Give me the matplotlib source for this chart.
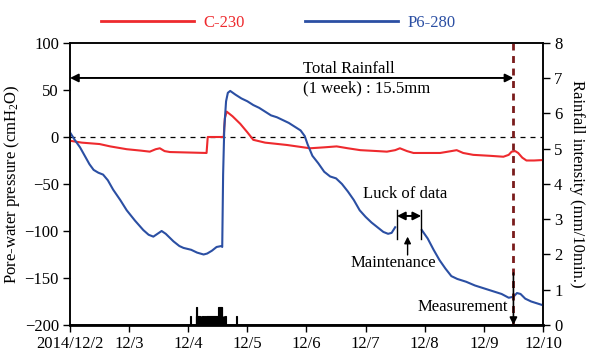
import numpy as np
import matplotlib
matplotlib.use("Agg")
import matplotlib.pyplot as plt
from matplotlib.lines import Line2D

plt.rcParams['font.family'] = 'Liberation Serif'
plt.rcParams['font.size'] = 12
plt.rcParams['mathtext.fontset'] = 'custom'
plt.rcParams['mathtext.rm'] = 'Liberation Serif'
plt.rcParams['mathtext.it'] = 'Liberation Serif:italic'

# time axis in days from 2014/12/2 00:00
tick_labels = ['2014/12/2', '12/3', '12/4', '12/5', '12/6', '12/7', '12/8', '12/9', '12/10']

# C-230 pore-water pressure (cmH2O)
c230_t = [0.00, 0.20, 0.50, 0.68, 0.96, 1.20, 1.35, 1.45, 1.52, 1.60, 1.69, 2.00, 2.31,
          2.33, 2.60, 2.62, 2.65, 2.75, 2.88, 3.00, 3.10, 3.30, 3.67, 4.06, 4.30, 4.51,
          4.70, 4.91, 5.20, 5.36, 5.50, 5.58, 5.70, 5.81, 6.26, 6.45, 6.54, 6.65, 6.82,
          7.10, 7.33, 7.42, 7.47, 7.53, 7.58, 7.65, 7.72, 7.85, 8.00]
c230_p = [-4, -6, -7.5, -10, -13, -14.5, -15.6, -13, -12, -15, -16, -16.5, -17,
          0, 0, 20, 27, 22, 14, 5, -3, -6, -8.5, -12, -11, -10,
          -12, -14, -15, -15.6, -14, -12, -15, -17, -17, -15, -14, -17, -19,
          -20, -21, -19, -15.6, -15, -17, -22, -25, -25, -24.5]

# P6-280 pore-water pressure (cmH2O), NaN = no data during maintenance
p6_t = [0.00, 0.08, 0.17, 0.25, 0.33, 0.40, 0.48, 0.56, 0.64, 0.73, 0.85, 0.96, 1.10,
        1.24, 1.33, 1.41, 1.48, 1.55, 1.62, 1.75, 1.85, 1.92, 2.05, 2.15, 2.26, 2.32,
        2.40, 2.48, 2.56, 2.575, 2.59, 2.61, 2.64, 2.67, 2.71, 2.80, 2.90, 3.00, 3.10,
        3.20, 3.30, 3.40, 3.50, 3.60, 3.70, 3.80, 3.90, 3.97, 4.02, 4.10, 4.20, 4.30,
        4.40, 4.50, 4.60, 4.70, 4.80, 4.90, 5.00, 5.10, 5.20, 5.30, 5.38, 5.44, 5.50,
        5.72, 5.95, 6.05, 6.15, 6.25, 6.35, 6.45, 6.55, 6.70, 6.85, 7.00, 7.15, 7.30,
        7.42, 7.50, 7.56, 7.62, 7.70, 7.80, 7.90, 8.00]
p6_p = [5, -3, -11, -20, -29, -35, -38, -40, -46, -56, -67, -78, -89,
        -99, -104, -106, -103, -100, -103, -111, -116, -118, -120, -123, -125, -124,
        -121, -117, -116, -117, -40, 10, 38, 47, 49, 45, 41, 38, 34,
        31, 27, 23, 21, 18, 15, 11, 7, 1, -8, -20, -28, -37,
        -42, -44, -50, -58, -67, -78, -85, -91, -96, -101, -103, -102, -96,
        np.nan, -99, -108, -120, -131, -140, -148, -151, -154, -158, -161, -164, -167,
        -171, -170, -166, -167, -172, -175, -177, -179]

# rainfall, 10-min steps counted from 12/4 00:00 (mm/10min)
rain_step = [5, 18, 19, 20, 21, 22, 24, 25, 27, 28, 30, 31, 33, 34, 35, 36, 38, 39, 41,
             43, 44, 46, 48, 49, 51, 53, 54, 56, 58, 59, 61, 63, 64, 66, 68, 69, 71,
             72, 73, 74, 76, 77, 78, 80, 81, 82, 84, 86, 87, 89, 90, 117]
rain_mm = [0.25, 0.25, 0.25, 0.5, 0.5, 0.25, 0.25, 0.25, 0.25, 0.25, 0.25, 0.25, 0.25,
           0.25, 0.25, 0.25, 0.25, 0.25, 0.25, 0.25, 0.25, 0.25, 0.25, 0.25, 0.25, 0.25,
           0.25, 0.25, 0.25, 0.25, 0.25, 0.25, 0.25, 0.25, 0.25, 0.25, 0.25, 0.25, 0.5,
           0.5, 0.5, 0.5, 0.5, 0.5, 0.5, 0.5, 0.25, 0.25, 0.25, 0.25, 0.25, 0.25]

measure_day = 7.5
red = '#ee2a2e'
blue = '#2b4fa3'

fig = plt.figure(figsize=(5.95, 3.58), dpi=100)
ax = fig.add_axes([0.1176, 0.0922, 0.795, 0.7877])
ax2 = ax.twinx()

# rainfall bars on the right axis
rain_t = 2.0 + np.array(rain_step) / 144.0
ax2.bar(rain_t, rain_mm, width=1 / 144.0, color='k', edgecolor='k', linewidth=0.8,
        align='edge')
ax2.set_ylim(0, 8)
ax2.set_yticks(range(9))
ax2.set_ylabel('Rainfall intensity (mm/10min.)', rotation=270, labelpad=16)

ax.axhline(0, color='k', ls=(0, (4, 4)), lw=0.9)
ax.plot(c230_t, c230_p, color=red, lw=1.5)
ax.plot(p6_t, p6_p, color=blue, lw=1.5)
ax.axvline(measure_day, color='#7a1c1c', ls=(0, (2.5, 2)), lw=2)

ax.set_xlim(0, 8)
ax.set_ylim(-200, 100)
ax.set_xticks(range(9))
ax.set_xticklabels(tick_labels)
ax.set_yticks(range(-200, 101, 50))
ax.set_ylabel('Pore-water pressure (cmH$_2$O)', labelpad=2)
ax.set_zorder(ax2.get_zorder() + 1)
ax.patch.set_visible(False)

for a in (ax, ax2):
    a.tick_params(direction='out', length=5, width=1, pad=3)
    for s in a.spines.values():
        s.set_linewidth(1.1)
ax.spines['bottom'].set_linewidth(2)

# total rainfall span
arrow = dict(arrowstyle='<|-|>', color='k', lw=1.4, shrinkA=0, shrinkB=0, mutation_scale=12)
ax.annotate('', xy=(0, 62.8), xytext=(measure_day, 62.8), arrowprops=arrow)
ax.text(3.94, 72.3, 'Total Rainfall', ha='left', va='center')
ax.text(3.94, 51.8, '(1 week) : 15.5mm', ha='left', va='center')

# gap in P6-280 record
gap_a, gap_b = 5.53, 5.94
ax.plot([gap_a, gap_a], [-78, -108], color='k', lw=1)
ax.plot([gap_b, gap_b], [-78, -108], color='k', lw=1)
ax.annotate('', xy=(gap_a, -84), xytext=(gap_b, -84), arrowprops=arrow)
ax.text(5.67, -60.6, 'Luck of data', ha='center', va='center')
ax.annotate('', xy=(5.71, -106), xytext=(5.71, -125.5),
            arrowprops=dict(arrowstyle='-|>', color='k', lw=1, shrinkA=0, shrinkB=0,
                            mutation_scale=10))
ax.text(5.47, -133.7, 'Maintenance', ha='center', va='center')

ax.annotate('', xy=(measure_day, -200), xytext=(measure_day, -144.7),
            arrowprops=dict(arrowstyle='-|>', color='k', lw=1.2, shrinkA=0, shrinkB=0,
                            mutation_scale=11))
ax.text(6.65, -180.5, 'Measurement', ha='center', va='center')

handles = [Line2D([], [], color=red, lw=2), Line2D([], [], color=blue, lw=2)]
leg = fig.legend(handles, ['C-230', 'P6-280'], loc='center left',
                 bbox_to_anchor=(0.156, 0.936), ncol=2, frameon=False, borderpad=0,
                 handlelength=5.6, handletextpad=0.55, columnspacing=3.6)
for txt, c in zip(leg.get_texts(), [red, blue]):
    txt.set_color(c)

fig.savefig('out.png', dpi=100)
